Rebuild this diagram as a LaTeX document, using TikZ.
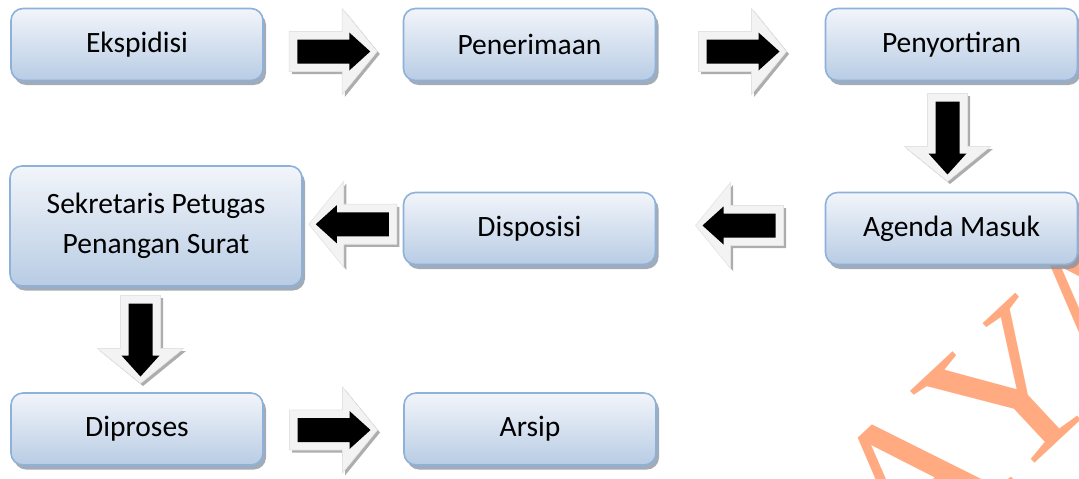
\documentclass[tikz,border=0pt]{standalone}
\usepackage{fontspec}
\setmainfont{Carlito}
\newfontfamily\wmfont{Liberation Serif}
\usetikzlibrary{calc,shadows}
\definecolor{boxtop}{HTML}{F2F5FA}
\definecolor{boxbot}{HTML}{B8CCE4}
\definecolor{boxline}{HTML}{8EB1D9}
\definecolor{boxshadow}{HTML}{8390A2}
\definecolor{wmcol}{HTML}{FFAA80}
\definecolor{arrfill}{HTML}{F3F3F3}
\definecolor{arrshade}{HTML}{ADADAD}
\tikzset{
  box/.style={rectangle, rounded corners=12pt, draw=boxline, line width=1.6pt,
    top color=boxtop, bottom color=boxbot, minimum width=252pt, minimum height=72pt,
    font=\fontsize{29.5}{40}\selectfont, align=center,
    general shadow={fill=boxshadow, opacity=0.75, shadow xshift=3pt, shadow yshift=-4.5pt}},
  arrshadow/.style={fill=arrshade},
  arrbody/.style={fill=arrfill, draw=gray!22, line width=0.6pt},
  arrcore/.style={fill=black},
  wmark/.style={text=wmcol, font=\wmfont\fontsize{210}{214}\selectfont, inner sep=0pt}
}
\newcommand\blockarr[2]{%
  \fill[arrshadow, shift={(#1)}, shift={(2.5,2.5)}, rotate=#2]
    (-44,-20) -- (9,-20) -- (9,-43) -- (44,0) -- (9,43) -- (9,20) -- (-44,20) -- cycle;
  \filldraw[arrbody, shift={(#1)}, rotate=#2]
    (-44,-20) -- (9,-20) -- (9,-43) -- (44,0) -- (9,43) -- (9,20) -- (-44,20) -- cycle;
  \fill[arrcore, shift={(#1)}, rotate=#2]
    (-36,-12) -- (16,-12) -- (16,-19) -- (37,0) -- (16,19) -- (16,12) -- (-36,12) -- cycle;
}
\begin{document}
\begin{tikzpicture}[x=1pt,y=-1pt]
\useasboundingbox (0,0) rectangle (1079,479);
\begin{scope}
  \clip (0,0) rectangle (1079,479);
  \node[wmark, rotate=43, anchor=base] (wm) at (1056,443) {AYA};
\end{scope}
% boxes
\node[box] (eks) at (137,44.5) {Ekspidisi};
\node[box] (pen) at (529.5,44.5) {Penerimaan};
\node[box] (pny) at (951.5,44.5) {Penyortiran};
\node[box, minimum width=292pt, minimum height=120pt] (sek) at (156,226) {Sekretaris Petugas\\Penangan Surat};
\node[box] (dis) at (529.5,228.5) {Disposisi};
\node[box] (age) at (951.5,228.5) {Agenda Masuk};
\node[box] (dip) at (137,429) {Diproses};
\node[box] (ars) at (530,429) {Arsip};
% arrow positions
\coordinate (r1) at ($(eks.east)!0.5!(pen.west)+(0,7)$);
\coordinate (r2) at ($(pen.east)!0.5!(pny.west)+(2,7)$);
\coordinate (d1) at ($(pny.south)!0.5!(age.north)+(-4,1)$);
\coordinate (l1) at ($(age.west)!0.5!(dis.east)+(-1,-3)$);
\coordinate (l2) at ($(dis.west)!0.5!(sek.east)+(0,-3)$);
\coordinate (d2) at ($(sek.south)!0.5!(dip.north)+(-6,0)$);
\coordinate (r3) at ($(dip.east)!0.5!(ars.west)+(0,1)$);
\blockarr{r1}{0}
\blockarr{r2}{0}
\blockarr{d1}{-90}
\blockarr{l1}{180}
\blockarr{l2}{180}
\blockarr{d2}{-90}
\blockarr{r3}{0}
\end{tikzpicture}
\end{document}
